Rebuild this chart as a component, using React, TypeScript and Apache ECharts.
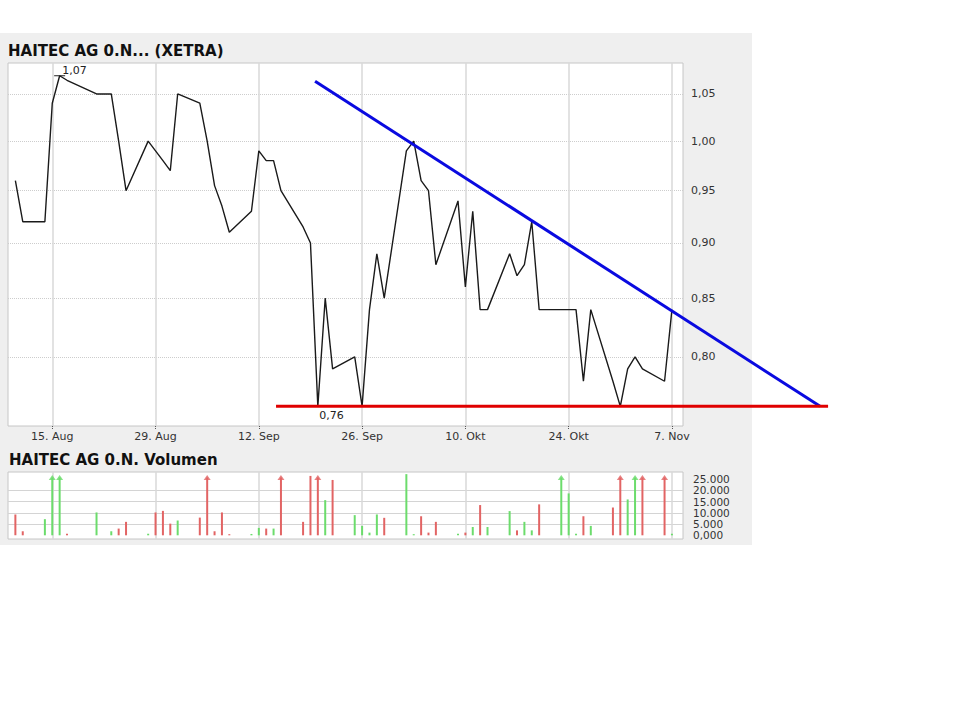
import React, { useEffect, useRef } from 'react';
import * as echarts from 'echarts';

// trading days with a price / volume (XETRA, 2006)
const dates = [
  '2006-08-10', '2006-08-11', '2006-08-14', '2006-08-15', '2006-08-16', '2006-08-17', '2006-08-21', '2006-08-23',
  '2006-08-24', '2006-08-25', '2006-08-28', '2006-08-29', '2006-08-30', '2006-08-31', '2006-09-01', '2006-09-04',
  '2006-09-05', '2006-09-06', '2006-09-07', '2006-09-08', '2006-09-11', '2006-09-12', '2006-09-13', '2006-09-14',
  '2006-09-15', '2006-09-18', '2006-09-19', '2006-09-20', '2006-09-21', '2006-09-22', '2006-09-25', '2006-09-26',
  '2006-09-27', '2006-09-28', '2006-09-29', '2006-10-02', '2006-10-03', '2006-10-04', '2006-10-05', '2006-10-06',
  '2006-10-09', '2006-10-10', '2006-10-11', '2006-10-12', '2006-10-13', '2006-10-16', '2006-10-17', '2006-10-18',
  '2006-10-19', '2006-10-20', '2006-10-23', '2006-10-24', '2006-10-25', '2006-10-26', '2006-10-27', '2006-10-30',
  '2006-10-31', '2006-11-01', '2006-11-02', '2006-11-03', '2006-11-06', '2006-11-07',
];

const prices = [
  0.96, 0.92, 0.92, 1.04, 1.07, 1.065, 1.05, 1.05,
  1.0, 0.95, 1.0, 0.99, 0.98, 0.97, 1.05, 1.04,
  1.0, 0.955, 0.935, 0.91, 0.93, 0.99, 0.98, 0.98,
  0.95, 0.915, 0.9, 0.76, 0.85, 0.79, 0.8, 0.76,
  0.84, 0.89, 0.85, 0.99, 1.0, 0.96, 0.95, 0.88,
  0.94, 0.86, 0.93, 0.84, 0.84, 0.89, 0.87, 0.88,
  0.92, 0.84, 0.84, 0.84, 0.84, 0.78, 0.84, 0.78,
  0.76, 0.79, 0.8, 0.79, 0.78, 0.84,
];

const volumes = [
  9300, 1800, 7200, 45000, 41000, 700, 10200, 1800,
  3000, 6000, 700, 10200, 10900, 5200, 6600, 7900,
  38000, 1800, 10200, 500, 600, 3300, 3000, 3000,
  36000, 6000, 26500, 52000, 15700, 24700, 9000, 4200,
  1200, 9300, 7800, 27300, 500, 8500, 1200, 6000,
  700, 1200, 3700, 13500, 3700, 10800, 2200, 6000,
  2200, 13800, 34000, 18700, 700, 8500, 4200, 12400,
  40000, 16000, 37000, 35000, 39000, 700,
];

// 1 = green volume bar, 0 = red
const upDays = [
  0, 0, 1, 1, 1, 0, 1, 1,
  0, 0, 1, 0, 0, 0, 1, 0,
  0, 0, 0, 0, 1, 1, 0, 1,
  0, 0, 0, 0, 1, 0, 1, 1,
  1, 1, 0, 1, 1, 0, 0, 0,
  1, 0, 1, 0, 1, 1, 0, 1,
  1, 0, 1, 1, 1, 0, 1, 0,
  0, 1, 1, 0, 0, 1,
];

const xTickDates = ['2006-08-15', '2006-08-29', '2006-09-12', '2006-09-26', '2006-10-10', '2006-10-24', '2006-11-07'];
const xTickLabels = ['15. Aug', '29. Aug', '12. Sep', '26. Sep', '10. Okt', '24. Okt', '7. Nov'];
const priceTicks = [0.8, 0.85, 0.9, 0.95, 1.0, 1.05];
const volTicks = [0, 5000, 10000, 15000, 20000, 25000];
const volTickLabels = ['0,000', '5.000', '10.000', '15.000', '20.000', '25.000'];
const volGridTicks = [5000, 10000, 15000, 20000];

// hand drawn trend lines (they run past the right edge of the chart)
const resistance: [string, number][] = [['2006-09-19T15:00', 1.064], ['2006-11-27T02:00', 0.76]];
const support: [string, number][] = [['2006-09-14T08:00', 0.76], ['2006-11-28T04:00', 0.76]];

const ts = (s: string) => new Date(s.length === 10 ? s + 'T00:00' : s).getTime();

const xMin = ts('2006-08-09');
const xMax = ts('2006-11-08T12:00');
const priceMin = 0.7447;
const priceMax = 1.0842;
const volMin = -1650;
const volMax = 28250;
const arrowLevel = 25800; // where clipped volume bars get their arrow head

const PLOT_W = 675;
const WIDE_W = 822; // overlay grid for the trend lines, same scale but wider
const xMaxWide = xMin + ((xMax - xMin) * WIDE_W) / PLOT_W;

const FONT = 'DejaVu Sans';
const RED = '#e26464';
const GREEN = '#6cdc6c';

const xTicks = xTickDates.map(ts);
const comma = (v: number) => v.toFixed(2).replace('.', ',');

export default function App() {
  const ref = useRef<HTMLDivElement>(null);

  useEffect(() => {
    if (!ref.current) return;
    const chart = echarts.init(ref.current, undefined, { renderer: 'svg' });

    const priceData = dates.map((d, i) => [ts(d), prices[i]]);
    const volData = dates.map((d, i) => ({
      value: [ts(d), volumes[i] > volMax ? arrowLevel : volumes[i]],
      itemStyle: { color: upDays[i] ? GREEN : RED },
    }));
    const arrowData = dates
      .map((d, i) => ({ i, d }))
      .filter(({ i }) => volumes[i] > volMax)
      .map(({ i, d }) => ({ value: [ts(d), arrowLevel], itemStyle: { color: upDays[i] ? GREEN : RED } }));

    const gridStyle = {
      show: true,
      backgroundColor: '#ffffff',
      borderColor: '#c6c6c6',
      borderWidth: 1,
      outerBoundsMode: 'none',
    };

    const option: any = {
      animation: false,
      textStyle: { fontFamily: FONT },
      graphic: [
        {
          type: 'rect',
          z: -100,
          silent: true,
          shape: { x: 0, y: 33, width: 752, height: 512 },
          style: { fill: '#efefef' },
        },
      ],
      title: [
        {
          text: 'HAITEC AG 0.N... (XETRA)',
          left: 8,
          top: 43,
          padding: 0,
          textStyle: { fontFamily: FONT, fontSize: 15, fontWeight: 'bold', color: '#111' },
        },
        {
          text: 'HAITEC AG 0.N. Volumen',
          left: 9,
          top: 452,
          padding: 0,
          textStyle: { fontFamily: FONT, fontSize: 15, fontWeight: 'bold', color: '#111' },
        },
      ],
      grid: [
        { ...gridStyle, left: 8, top: 63, width: PLOT_W, height: 363 },
        { ...gridStyle, left: 8, top: 472, width: PLOT_W, height: 67 },
        { show: false, left: 8, top: 63, width: WIDE_W, height: 363, outerBoundsMode: 'none' },
      ],
      xAxis: [
        {
          type: 'value',
          gridIndex: 0,
          min: xMin,
          max: xMax,
          axisLine: { show: false },
          axisTick: { show: true, customValues: xTicks, length: 4, lineStyle: { color: '#555', type: 'dotted' } },
          axisLabel: {
            customValues: xTicks,
            formatter: (v: number) => xTickLabels[xTicks.indexOf(v)] ?? '',
            margin: 5,
            fontSize: 11,
            color: '#333',
            fontFamily: FONT,
            hideOverlap: false,
          },
          splitLine: { show: true, lineStyle: { color: '#d8d8d8', width: 1.5 } },
        },
        {
          type: 'value',
          gridIndex: 1,
          min: xMin,
          max: xMax,
          axisLine: { show: false },
          axisTick: { show: false, customValues: xTicks },
          axisLabel: { show: false },
          splitLine: { show: true, lineStyle: { color: '#d8d8d8', width: 1.5 } },
        },
        {
          type: 'value',
          gridIndex: 2,
          min: xMin,
          max: xMaxWide,
          show: false,
          splitLine: { show: false },
        },
      ],
      yAxis: [
        {
          type: 'log',
          logBase: 10,
          gridIndex: 0,
          position: 'right',
          min: priceMin,
          max: priceMax,
          axisLine: { show: false },
          axisTick: { show: false, customValues: priceTicks },
          axisLabel: {
            customValues: priceTicks,
            formatter: (v: number) => comma(v),
            margin: 8,
            fontSize: 11,
            color: '#333',
            fontFamily: FONT,
            hideOverlap: false,
          },
          splitLine: { show: true, lineStyle: { color: '#cdcdcd', type: 'dotted', width: 1 } },
        },
        {
          type: 'value',
          gridIndex: 1,
          position: 'right',
          min: volMin,
          max: volMax,
          axisLine: { show: false },
          axisTick: { show: false, customValues: volGridTicks },
          axisLabel: {
            customValues: volTicks,
            formatter: (v: number) => volTickLabels[volTicks.indexOf(v)] ?? '',
            margin: 10,
            fontSize: 10.5,
            lineHeight: 11,
            color: '#333',
            fontFamily: FONT,
            hideOverlap: false,
          },
          splitLine: { show: true, lineStyle: { color: '#d4d4d4', width: 1 } },
        },
        {
          type: 'log',
          logBase: 10,
          gridIndex: 2,
          min: priceMin,
          max: priceMax,
          show: false,
          splitLine: { show: false },
        },
      ],
      series: [
        {
          name: 'Kurs',
          type: 'line',
          xAxisIndex: 0,
          yAxisIndex: 0,
          data: priceData,
          symbol: 'none',
          z: 3,
          lineStyle: { color: '#1a1a1a', width: 1.4 },
          markPoint: {
            symbol: 'rect',
            symbolSize: [11, 1],
            itemStyle: { color: '#222' },
            label: {
              show: true,
              formatter: (p: any) => comma(p.value),
              fontSize: 11,
              color: '#222',
              fontFamily: FONT,
              align: 'left',
              verticalAlign: 'middle',
            },
            data: [
              { type: 'max', label: { position: [8, -4.5] } },
              { type: 'min', label: { position: [7, 10] } },
            ],
          },
        },
        {
          name: 'Widerstand',
          type: 'line',
          xAxisIndex: 2,
          yAxisIndex: 2,
          data: resistance.map(([d, v]) => [ts(d), v]),
          symbol: 'none',
          silent: true,
          z: 6,
          lineStyle: { color: '#0a0ae0', width: 3 },
        },
        {
          name: 'Unterstützung',
          type: 'line',
          xAxisIndex: 2,
          yAxisIndex: 2,
          data: support.map(([d, v]) => [ts(d), v]),
          symbol: 'none',
          silent: true,
          z: 6,
          lineStyle: { color: '#e00000', width: 3 },
        },
        {
          name: 'Volumen',
          type: 'bar',
          xAxisIndex: 1,
          yAxisIndex: 1,
          barWidth: 2,
          data: volData,
        },
        {
          name: 'Volumen >',
          type: 'scatter',
          xAxisIndex: 1,
          yAxisIndex: 1,
          symbol: 'triangle',
          symbolSize: [7, 5],
          data: arrowData,
          z: 4,
        },
      ],
    };

    chart.setOption(option);
    return () => chart.dispose();
  }, []);

  return (
    <div
      ref={ref}
      style={{ position: 'fixed', left: 0, top: 0, width: 960, height: 720, background: '#ffffff' }}
    />
  );
}
